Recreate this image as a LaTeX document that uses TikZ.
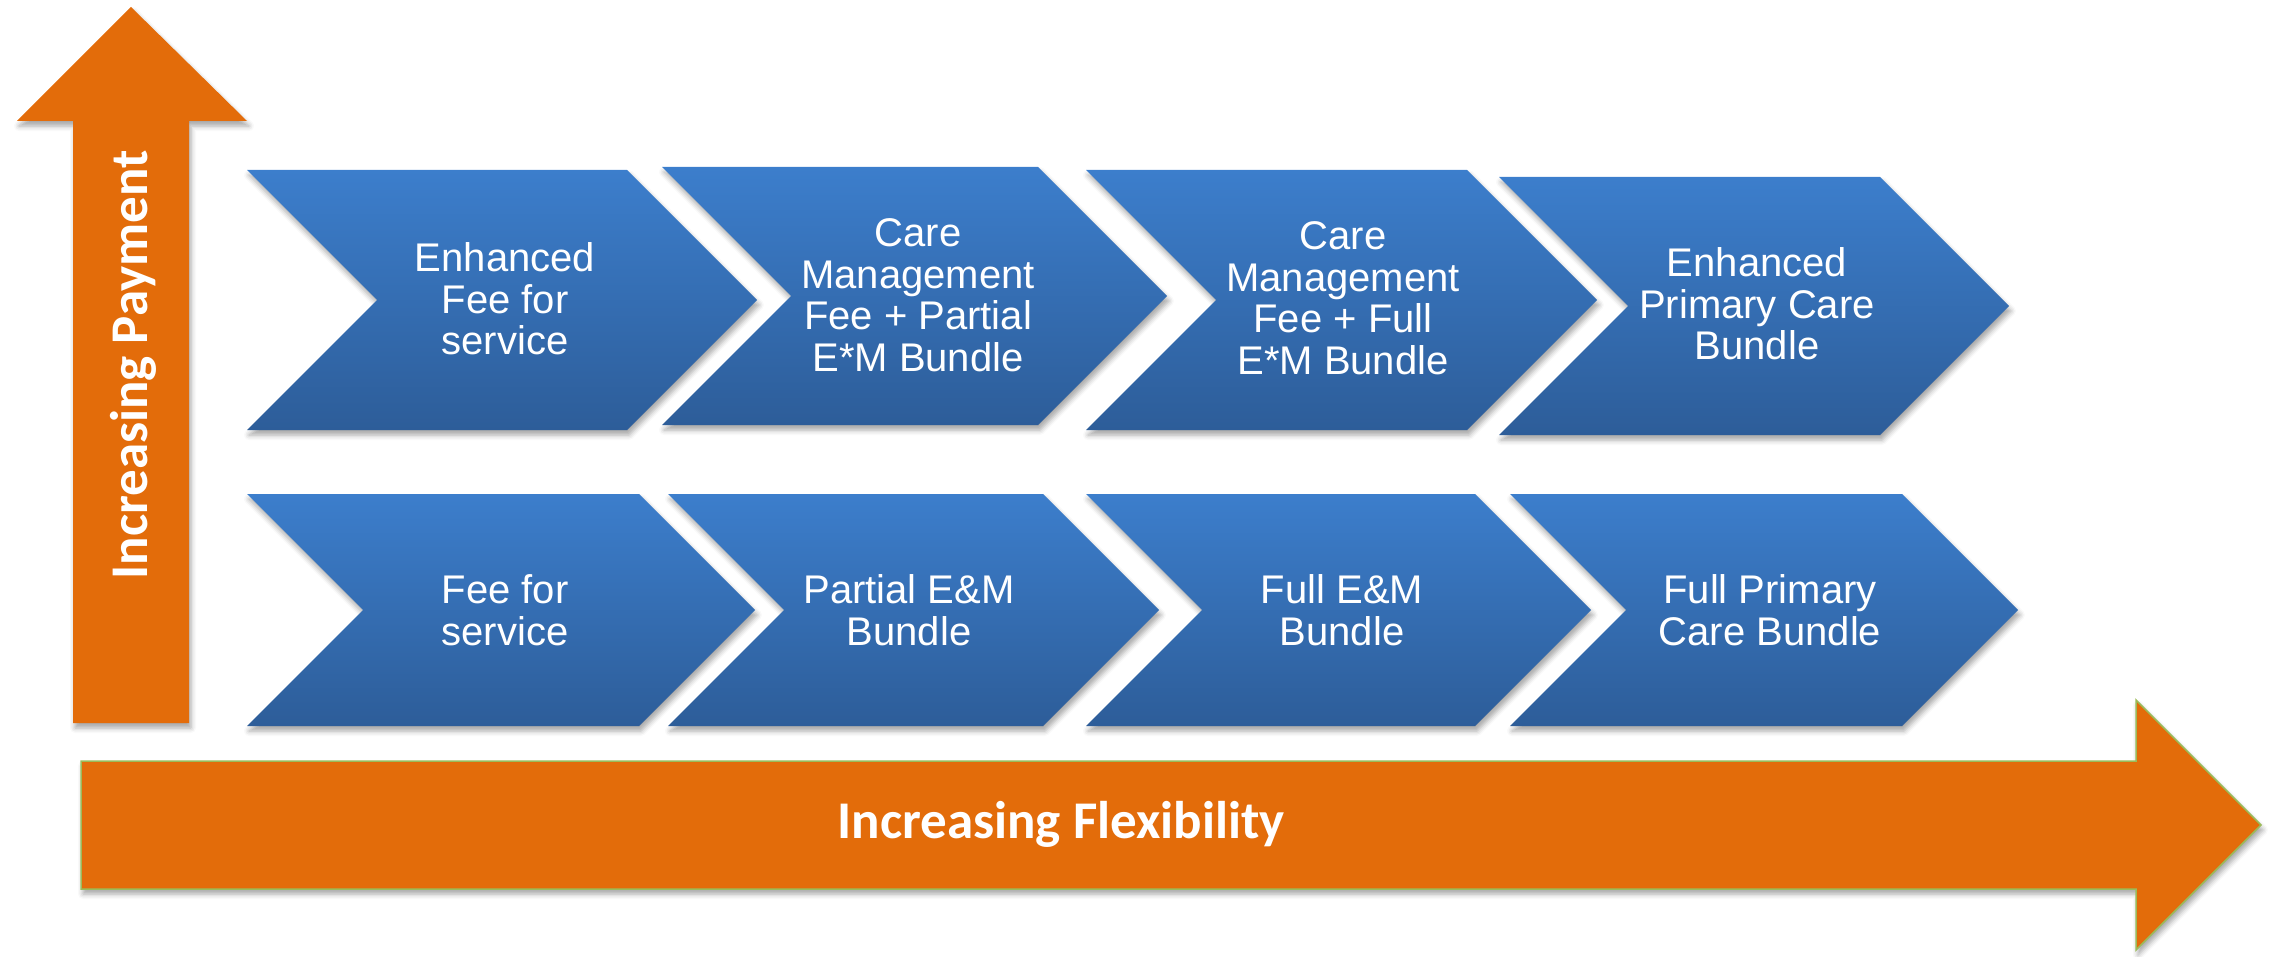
\documentclass[tikz,border=0pt]{standalone}
\usepackage{fontspec}
\setmainfont{Liberation Sans}
\newfontfamily\calibfont{Carlito}
\usetikzlibrary{shadows.blur}

\definecolor{chevtop}{RGB}{60,126,204}
\definecolor{chevbot}{RGB}{45,93,153}
\definecolor{axisorange}{RGB}{227,108,10}
\definecolor{axisgreen}{RGB}{155,187,89}

\begin{document}
\begin{tikzpicture}[x=1pt,y=-1pt,
  softshadow/.style={blur shadow={shadow xshift=2pt, shadow yshift=-5pt, shadow blur radius=5pt, shadow opacity=35}},
  chevbox/.style={top color=chevtop, bottom color=chevbot, softshadow},
  axisbar/.style={fill=axisorange, softshadow},
  chevtext/.style={text=white, align=center, inner sep=0pt, font=\fontsize{40}{41.5}\selectfont},
  axistext/.style={text=white, inner sep=0pt, font=\calibfont\bfseries\fontsize{53}{60}\selectfont}]

\useasboundingbox (0,0) rectangle (2277,957);

% horizontal axis arrow
\path[axisbar, draw=axisgreen, line width=1.5pt, line join=miter]
  (81,761) -- (2136,761) -- (2136,700) -- (2261,825) -- (2136,950) -- (2136,889) -- (81,889) -- cycle;
\node[axistext] (flex) at (1061,824) {Increasing Flexibility};

% vertical axis arrow
\path[axisbar]
  (73,723) -- (73,121) -- (17,121) -- (131,7) -- (247,121) -- (189,121) -- (189,723) -- cycle;
\node[axistext, rotate=90] (pay) at (133,365) {Increasing Payment};

% top row chevrons
\path[chevbox] (247,170) -- (627,170) -- (757,300) -- (627,430) -- (247,430) -- (377,300) -- cycle;
\node[chevtext] (t1) at (505,299) {Enhanced\\Fee for\\service};

\path[chevbox] (662,167) -- (1038,167) -- (1167,296) -- (1038,425) -- (662,425) -- (791,296) -- cycle;
\node[chevtext] (t2) at (918,295) {Care\\Management\\Fee + Partial\\E*M Bundle};

\path[chevbox] (1086,170) -- (1467,170) -- (1597,300) -- (1467,430) -- (1086,430) -- (1216,300) -- cycle;
\node[chevtext] (t3) at (1343,298) {Care\\Management\\Fee + Full\\E*M Bundle};

\path[chevbox] (1499,177) -- (1880,177) -- (2009,306) -- (1880,435) -- (1499,435) -- (1628,306) -- cycle;
\node[chevtext] (t4) at (1757,304) {Enhanced\\Primary Care\\Bundle};

% bottom row chevrons
\path[chevbox] (247,494) -- (639,494) -- (755,610) -- (639,726) -- (247,726) -- (363,610) -- cycle;
\node[chevtext] (b1) at (505,610) {Fee for\\service};

\path[chevbox] (668,494) -- (1043,494) -- (1159,610) -- (1043,726) -- (668,726) -- (784,610) -- cycle;
\node[chevtext] (b2) at (909,610) {Partial E\&M\\Bundle};

\path[chevbox] (1086,494) -- (1475,494) -- (1591,610) -- (1475,726) -- (1086,726) -- (1202,610) -- cycle;
\node[chevtext] (b3) at (1342,610) {Full E\&M\\Bundle};

\path[chevbox] (1510,494) -- (1902,494) -- (2018,610) -- (1902,726) -- (1510,726) -- (1626,610) -- cycle;
\node[chevtext] (b4) at (1770,610) {Full Primary\\Care Bundle};

\end{tikzpicture}
\end{document}
